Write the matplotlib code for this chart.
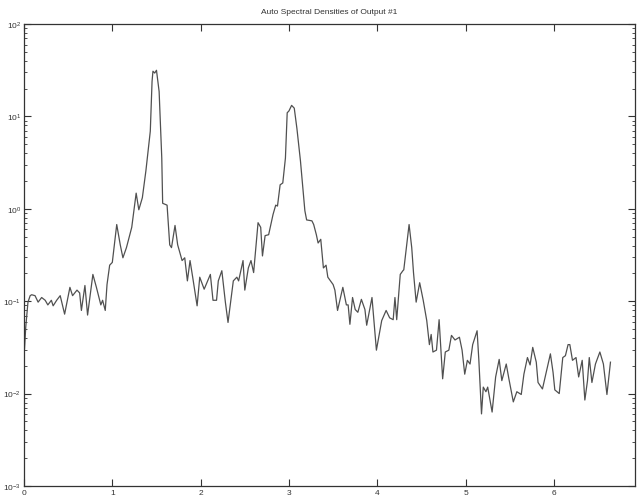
import numpy as np
import matplotlib
matplotlib.use("Agg")
import matplotlib.pyplot as plt
from matplotlib.ticker import LogLocator

plt.rcParams['font.family'] = ['Liberation Sans', 'DejaVu Sans']
plt.rcParams['mathtext.fontset'] = 'custom'
plt.rcParams['mathtext.rm'] = 'Liberation Sans'

# frequency values
freq = [0.00, 0.02, 0.045, 0.07, 0.087, 0.125, 0.16, 0.20, 0.24, 0.27,
        0.31, 0.33, 0.37, 0.41, 0.46, 0.52, 0.55, 0.60, 0.63, 0.65,
        0.69, 0.72, 0.78, 0.82, 0.87, 0.89, 0.92, 0.94, 0.97, 1.00,
        1.05, 1.09, 1.12, 1.16, 1.22, 1.27, 1.30, 1.34, 1.38, 1.43,
        1.45, 1.46, 1.48, 1.50, 1.53, 1.56, 1.57, 1.62, 1.65, 1.67,
        1.71, 1.74, 1.79, 1.82, 1.85, 1.88, 1.91, 1.96, 1.99, 2.04,
        2.11, 2.14, 2.18, 2.20, 2.24, 2.28, 2.31, 2.37, 2.41, 2.43,
        2.48, 2.50, 2.54, 2.57, 2.60, 2.65, 2.68, 2.70, 2.73, 2.77,
        2.82, 2.85, 2.87, 2.90, 2.93, 2.96, 2.98, 3.00, 3.03, 3.06,
        3.09, 3.13, 3.18, 3.20, 3.26, 3.28, 3.31, 3.33, 3.36, 3.39,
        3.42, 3.44, 3.50, 3.52, 3.55, 3.61, 3.65, 3.67, 3.69, 3.72,
        3.75, 3.78, 3.82, 3.86, 3.88, 3.94, 3.99, 4.05, 4.10, 4.14,
        4.18, 4.20, 4.22, 4.26, 4.29, 4.30, 4.33, 4.36, 4.39, 4.41,
        4.44, 4.48, 4.52, 4.56, 4.59, 4.61, 4.63, 4.67, 4.70, 4.74,
        4.77, 4.81, 4.84, 4.88, 4.93, 4.96, 4.99, 5.02, 5.05, 5.08,
        5.13, 5.15, 5.18, 5.20, 5.23, 5.25, 5.30, 5.34, 5.38, 5.41,
        5.46, 5.49, 5.54, 5.58, 5.63, 5.66, 5.70, 5.73, 5.76, 5.80,
        5.82, 5.87, 5.92, 5.96, 5.99, 6.01, 6.06, 6.10, 6.13, 6.16,
        6.18, 6.21, 6.25, 6.28, 6.32, 6.35, 6.38, 6.40, 6.43, 6.47,
        6.52, 6.56, 6.60, 6.64]

# log10 of the auto spectral density
log_psd = [-1.61, -1.28, -1.01, -0.94, -0.93, -0.94, -1.01, -0.96, -0.99, -1.04,
           -0.99, -1.05, -0.99, -0.94, -1.14, -0.85, -0.94, -0.88, -0.91, -1.10,
           -0.83, -1.15, -0.71, -0.85, -1.04, -0.99, -1.10, -0.82, -0.61, -0.58,
           -0.17, -0.39, -0.53, -0.42, -0.20, 0.17, -0.01, 0.12, 0.41, 0.84,
           1.38, 1.49, 1.47, 1.50, 1.27, 0.55, 0.06, 0.04, -0.39, -0.42,
           -0.18, -0.39, -0.56, -0.53, -0.78, -0.56, -0.74, -1.05, -0.74, -0.87,
           -0.71, -0.99, -0.99, -0.78, -0.67, -1.01, -1.23, -0.78, -0.74, -0.78,
           -0.56, -0.88, -0.64, -0.56, -0.69, -0.15, -0.20, -0.51, -0.29, -0.28,
           -0.06, 0.04, 0.03, 0.26, 0.28, 0.55, 1.04, 1.06, 1.12, 1.09,
           0.87, 0.52, -0.02, -0.12, -0.13, -0.17, -0.28, -0.37, -0.33, -0.64,
           -0.61, -0.74, -0.82, -0.88, -1.10, -0.85, -1.04, -1.04, -1.25, -0.96,
           -1.09, -1.12, -0.98, -1.09, -1.26, -0.96, -1.53, -1.21, -1.10, -1.18,
           -1.20, -0.96, -1.20, -0.71, -0.67, -0.66, -0.42, -0.17, -0.42, -0.69,
           -1.01, -0.80, -0.99, -1.21, -1.47, -1.36, -1.55, -1.53, -1.20, -1.84,
           -1.55, -1.53, -1.37, -1.42, -1.39, -1.53, -1.79, -1.64, -1.68, -1.47,
           -1.32, -1.64, -2.22, -1.93, -1.98, -1.93, -2.20, -1.82, -1.63, -1.86,
           -1.68, -1.84, -2.09, -1.98, -2.01, -1.79, -1.61, -1.69, -1.50, -1.66,
           -1.88, -1.95, -1.74, -1.57, -1.77, -1.96, -2.00, -1.61, -1.59, -1.47,
           -1.47, -1.64, -1.61, -1.82, -1.64, -2.07, -1.86, -1.61, -1.88, -1.68,
           -1.55, -1.68, -2.01, -1.66]

psd = 10 ** np.array(log_psd)

fig = plt.figure(figsize=(6.38, 5.02), dpi=100)
ax = fig.add_axes([0.0376, 0.030, 0.958, 0.920])

ax.semilogy(freq, psd, color="#505050", linewidth=0.9)

ax.set_xlim(0, 6.92)
ax.set_ylim(1e-3, 1e2)
ax.set_xticks([0, 1, 2, 3, 4, 5, 6])
ax.yaxis.set_major_locator(LogLocator(base=10, numticks=10))
ax.yaxis.set_minor_locator(LogLocator(base=10, subs=np.arange(2, 10), numticks=10))

ax.tick_params(which="both", direction="in", top=True, right=True,
               labelsize=6, colors="#333333", pad=2)
ax.tick_params(which="major", length=5, width=0.8)
ax.tick_params(which="minor", length=2.5, width=0.6)
for s in ax.spines.values():
    s.set_color("#333333")
    s.set_linewidth(0.9)

ax.set_title("Auto Spectral Densities of Output #1", fontsize=6, pad=8, color="#333333")

fig.savefig("out.png", dpi=100)
